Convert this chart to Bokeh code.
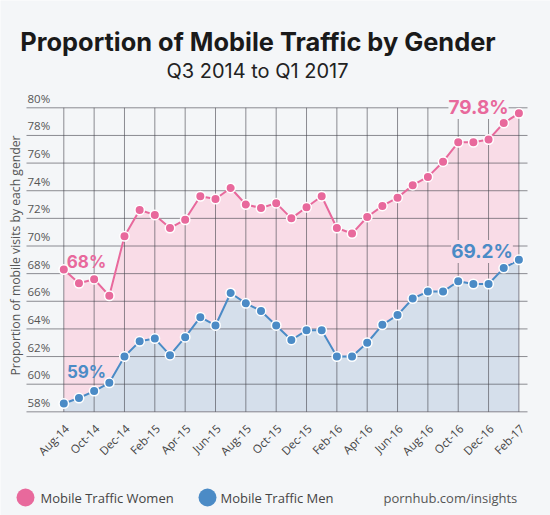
import math
from bokeh.plotting import figure
from bokeh.models import Range1d, Label
from bokeh.core.properties import value
from bokeh.embed import file_html
from bokeh.resources import INLINE

# ---------------- data ----------------
months = ["Aug-14", "Sep-14", "Oct-14", "Nov-14", "Dec-14", "Jan-15", "Feb-15", "Mar-15",
          "Apr-15", "May-15", "Jun-15", "Jul-15", "Aug-15", "Sep-15", "Oct-15", "Nov-15",
          "Dec-15", "Jan-16", "Feb-16", "Mar-16", "Apr-16", "May-16", "Jun-16", "Jul-16",
          "Aug-16", "Sep-16", "Oct-16", "Nov-16", "Dec-16", "Jan-17", "Feb-17"]
women = [68.3, 67.3, 67.6, 66.4, 70.7, 72.6, 72.25, 71.3, 71.9, 73.6, 73.4, 74.2, 73.0,
         72.75, 73.1, 72.0, 72.8, 73.6, 71.3, 70.9, 72.1, 72.9, 73.5, 74.4, 75.0, 76.1,
         77.5, 77.5, 77.7, 78.9, 79.6]
men = [58.6, 59.0, 59.5, 60.1, 62.0, 63.1, 63.3, 62.1, 63.4, 64.85, 64.25, 66.6, 65.85,
       65.3, 64.25, 63.2, 63.9, 63.9, 62.0, 62.0, 63.0, 64.3, 65.0, 66.2, 66.7, 66.7,
       67.45, 67.25, 67.25, 68.4, 69.0]
series_names = ["Mobile Traffic Women", "Mobile Traffic Men"]
y_ticks = [58, 60, 62, 64, 66, 68, 70, 72, 74, 76, 78, 80]
y_tick_labels = [f"{v}%" for v in y_ticks]
x_ticks = list(range(0, len(months), 2))
x_tick_labels = [months[i] for i in x_ticks]
callouts = ["68%", "59%", "79.8%", "69.2%"]

# ---------------- layout helpers (pixel -> data) ----------------
PX_MONTH = 15.17
X0_PX = 63.3
PX_PCT = 13.82
Y80_PX = 107.3


def X(px):
    return (px - X0_PX) / PX_MONTH


def Y(py):
    return 80 + (Y80_PX - py) / PX_PCT


PINK = "#e8699c"
BLUE = "#4b8bc6"
PINK_FILL = "#f9dce7"
BLUE_FILL = "#d5dfeb"
BG = "#f4f6f8"
FONT = "Open Sans"
TFONT = "Inter"

p = figure(width=550, height=515, x_range=Range1d(X(0), X(550)), y_range=Range1d(Y(515), Y(0)),
           x_axis_location=None, y_axis_location=None, toolbar_location=None,
           output_backend="svg", min_border=0, outline_line_color=None,
           background_fill_color=BG, border_fill_color=BG)
p.xgrid.visible = False
p.ygrid.visible = False

xs = list(range(len(months)))
base = [y_ticks[0]] * len(months)

# areas
p.varea(x=xs, y1=base, y2=women, fill_color=PINK_FILL)
p.varea(x=xs, y1=base, y2=men, fill_color=BLUE_FILL)

# grid lines
p.segment(x0=[X(26)] * len(y_ticks), x1=[X(527)] * len(y_ticks), y0=y_ticks, y1=y_ticks,
          line_color="#45454d", line_alpha=0.6, line_width=1)
p.segment(x0=x_ticks, x1=x_ticks, y0=[y_ticks[0]] * len(x_ticks), y1=[y_ticks[-1]] * len(x_ticks),
          line_color="#45454d", line_alpha=0.6, line_width=1)

# lines + dots
p.line(xs, women, line_color=PINK, line_width=2)
p.line(xs, men, line_color=BLUE, line_width=2)
p.scatter(xs, women, size=9.5, fill_color=PINK, line_color="white", line_width=1.5)
p.scatter(xs, men, size=9.5, fill_color=BLUE, line_color="white", line_width=1.5)

# y tick labels
p.text(x=[X(27)] * len(y_ticks), y=[v + 2 / PX_PCT for v in y_ticks], text=y_tick_labels,
       text_font=value(FONT), text_font_size="11.5px", text_color="#555555",
       text_align="left", text_baseline="bottom")

# x tick labels
p.text(x=[t + 3 / PX_MONTH for t in x_ticks], y=[Y(426)] * len(x_ticks), text=x_tick_labels,
       angle=math.pi / 4, text_font=value(FONT), text_font_size="11.5px", text_color="#444444",
       text_align="right", text_baseline="middle")

# y axis title
p.text(x=[X(15)], y=[Y(255)], text=["Proportion of mobile visits by each gender"],
       angle=math.pi / 2, text_font=value(FONT), text_font_size="12.2px", text_color="#555555",
       text_align="center", text_baseline="middle")

# titles
p.text(x=[X(257.5)], y=[Y(41)], text=["Proportion of Mobile Traffic by Gender"],
       text_font=value(TFONT), text_font_size="25.4px", text_font_style="bold",
       text_color="#1a1a1a", text_align="center", text_baseline="alphabetic")
p.text(x=[X(257)], y=[Y(70)], text=["Q3 2014 to Q1 2017"],
       text_font=value(TFONT), text_font_size="20px", text_color="#222222",
       text_align="center", text_baseline="alphabetic")

# callouts
p.add_layout(Label(x=X(86), y=Y(261), text=callouts[0], text_font=TFONT, text_font_size="17px",
                   text_font_style="bold", text_color=PINK, text_align="center", text_baseline="middle"))
p.add_layout(Label(x=X(86), y=Y(371), text=callouts[1], text_font=TFONT, text_font_size="17px",
                   text_font_style="bold", text_color=BLUE, text_align="center", text_baseline="middle"))
p.add_layout(Label(x=X(478), y=Y(107), text=callouts[2], text_font=TFONT, text_font_size="19px",
                   text_font_style="bold", text_color=PINK, text_align="center", text_baseline="middle",
                   background_fill_color=BG))
p.add_layout(Label(x=X(481.5), y=Y(251), text=callouts[3], text_font=TFONT, text_font_size="19px",
                   text_font_style="bold", text_color=BLUE, text_align="center", text_baseline="middle",
                   background_fill_color=PINK_FILL))

# legend
p.scatter(x=[X(25), X(207)], y=[Y(497)] * 2, size=18, fill_color=[PINK, BLUE], line_color=None)
p.text(x=[X(40), X(220)], y=[Y(497)] * 2, text=series_names, text_font=value(FONT),
       text_font_size="13px", text_color="#444444", text_align="left", text_baseline="middle")
p.text(x=[X(383)], y=[Y(497)], text=["pornhub.com/insights"], text_font=value(FONT),
       text_font_size="13px", text_color="#555555", text_align="left", text_baseline="middle")

open("out.html", "w").write(file_html(p, INLINE))
